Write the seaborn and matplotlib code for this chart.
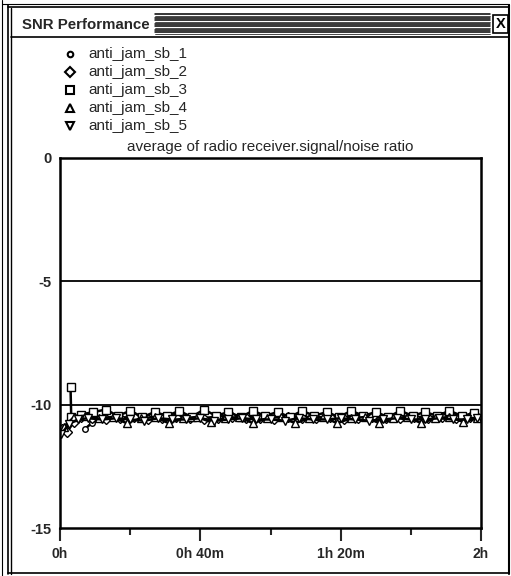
import seaborn as sns
import matplotlib
matplotlib.use("Agg")
from matplotlib import pyplot as plt
from matplotlib.lines import Line2D
from matplotlib.patches import Rectangle

# data: time in minutes, snr in dB
sb1_t = [7, 9, 12, 16, 20, 24, 28, 32, 36, 40, 44, 48, 52, 56, 60, 64, 68, 72, 76, 80,
         84, 88, 92, 96, 100, 104, 108, 112, 116, 119]
sb1_v = [-11.0, -10.75, -10.6, -10.55, -10.5, -10.5, -10.55, -10.5, -10.5, -10.55,
         -10.5, -10.45, -10.5, -10.5, -10.55, -10.5, -10.5, -10.5, -10.55, -10.5,
         -10.5, -10.5, -10.5, -10.45, -10.5, -10.5, -10.5, -10.5, -10.5, -10.5]

sb2_t = [0.5, 2, 4, 6, 9, 13, 17, 21, 25, 29, 33, 37, 41, 45, 49, 53, 57, 61, 65, 69,
         73, 77, 81, 85, 89, 93, 97, 101, 105, 109, 113, 117, 119]
sb2_v = [-11.0, -11.1, -10.7, -10.5, -10.55, -10.6, -10.55, -10.5, -10.6, -10.55,
         -10.5, -10.55, -10.6, -10.55, -10.5, -10.55, -10.55, -10.6, -10.5, -10.55,
         -10.55, -10.5, -10.6, -10.55, -10.5, -10.55, -10.55, -10.5, -10.55, -10.5,
         -10.55, -10.5, -10.5]

sb3_t = [3, 3.2, 6, 9.5, 13, 16.5, 20, 23.5, 27, 30.5, 34, 37.5, 41, 44.5, 48, 51.5,
         55, 58.5, 62, 65.5, 69, 72.5, 76, 79.5, 83, 86.5, 90, 93.5, 97, 100.5, 104,
         107.5, 111, 114.5, 118]
sb3_v = [-9.3, -10.5, -10.4, -10.3, -10.2, -10.45, -10.25, -10.5, -10.3, -10.45,
         -10.25, -10.5, -10.2, -10.45, -10.3, -10.5, -10.25, -10.45, -10.3, -10.5,
         -10.25, -10.45, -10.3, -10.5, -10.25, -10.45, -10.3, -10.5, -10.25, -10.45,
         -10.3, -10.45, -10.25, -10.45, -10.35]

sb4_t = [1, 4, 7, 11, 15, 19, 23, 27, 31, 35, 39, 43, 47, 51, 55, 59, 63, 67, 71, 75,
         79, 83, 87, 91, 95, 99, 103, 107, 111, 115, 119]
sb4_v = [-10.9, -10.5, -10.45, -10.55, -10.5, -10.75, -10.55, -10.5, -10.75, -10.55,
         -10.5, -10.7, -10.55, -10.5, -10.75, -10.55, -10.5, -10.75, -10.55, -10.5,
         -10.75, -10.55, -10.5, -10.75, -10.55, -10.5, -10.75, -10.55, -10.5, -10.7,
         -10.55]

sb5_t = [0.3, 2.5, 5, 8, 12, 16, 20, 24, 28, 32, 36, 40, 44, 48, 52, 56, 60, 64, 68,
         72, 76, 80, 84, 88, 92, 96, 100, 104, 108, 112, 116, 119]
sb5_v = [-11.2, -10.8, -10.6, -10.55, -10.6, -10.55, -10.6, -10.65, -10.55, -10.6,
         -10.6, -10.55, -10.65, -10.6, -10.55, -10.6, -10.6, -10.65, -10.55, -10.6,
         -10.6, -10.55, -10.6, -10.65, -10.6, -10.55, -10.6, -10.6, -10.55, -10.6,
         -10.6, -10.55]

names = ["anti_jam_sb_1", "anti_jam_sb_2", "anti_jam_sb_3", "anti_jam_sb_4", "anti_jam_sb_5"]
series = [(sb1_t, sb1_v), (sb2_t, sb2_v), (sb3_t, sb3_v), (sb4_t, sb4_v), (sb5_t, sb5_v)]
marks = ["o", "D", "s", "^", "v"]
msizes = [4, 5, 6, 6, 6]

x_ticks = [0, 40, 80, 120]
x_labels = ["0h", "0h 40m", "1h 20m", "2h"]
y_ticks = [0, -5, -10, -15]

sns.set_style("white")
plt.rcParams["font.family"] = ["Liberation Sans", "DejaVu Sans"]

W, H = 511, 576
fig = plt.figure(figsize=(W / 100, H / 100), dpi=100)


def fx(x):
    return x / W


def fy(y):
    return 1 - y / H


def box(x, y, w, h, **kw):
    # pixel box, top-left origin
    fig.patches.append(Rectangle((fx(x), fy(y + h)), w / W, h / H,
                                 transform=fig.transFigure, **kw))


def hline(x0, x1, y, lw=1.0):
    fig.lines.append(Line2D([fx(x0), fx(x1)], [fy(y), fy(y)], color="black",
                            lw=lw, transform=fig.transFigure))


def vline(x, y0, y1, lw=1.0):
    fig.lines.append(Line2D([fx(x), fx(x)], [fy(y0), fy(y1)], color="black",
                            lw=lw, transform=fig.transFigure))


# window frame
vline(2, 0, 576, 0.8)
vline(8, 5, 574, 1.2)
vline(11, 8, 574, 1.0)
vline(509, 5, 574, 1.5)
hline(2, 509, 4, 0.8)
hline(8, 509, 7, 1.2)
hline(8, 509, 573, 1.2)
hline(11, 509, 37, 1.2)

# title bar
fig.text(fx(22), fy(25), "SNR Performance", fontsize=10.8, fontweight="bold",
         va="center", ha="left")
for k, yy in enumerate(range(14, 35, 2)):
    hline(155, 490, yy, 1.1 if k % 3 != 1 else 0.5)
box(493, 15, 15, 18, facecolor="white", edgecolor="black", lw=1.2)
fig.text(fx(500.5), fy(24), "X", color="black", fontsize=10.5, fontweight="bold",
         ha="center", va="center")

# legend, drawn by hand to keep the row spacing of the original
for k, (nm, m, ms) in enumerate(zip(names, marks, msizes)):
    yy = 54 + 18 * k
    fig.lines.append(Line2D([fx(70)], [fy(yy)], ls="none", marker=m, ms=ms, mfc="white",
                            mec="black", mew=1.5, transform=fig.transFigure))
    fig.text(fx(88), fy(yy), nm, fontsize=11, va="center", ha="left")

ax = fig.add_axes([fx(60), fy(528), 421 / W, 370 / H])

for (t, v), m, ms in zip(series, marks, msizes):
    sns.lineplot(x=t, y=v, ax=ax, color="black", lw=1.8, marker=m, markersize=ms,
                 markerfacecolor="white", markeredgecolor="black", markeredgewidth=1.0,
                 estimator=None, sort=False)

for yv in [-5, -10]:
    ax.axhline(yv, color="black", lw=1.3, zorder=0)

ax.set_xlim(0, 120)
ax.set_ylim(-15, 0)
ax.set_xticks(x_ticks)
ax.set_xticklabels(x_labels, fontweight="bold", fontsize=10)
ax.set_xticks([20, 60, 100], minor=True)
ax.set_yticks(y_ticks)
ax.set_yticklabels([str(v) for v in y_ticks], fontweight="bold", fontsize=10.5)
ax.tick_params(axis="x", which="major", direction="out", length=9, width=1.5, pad=5,
               bottom=True)
ax.tick_params(axis="x", which="minor", direction="out", length=5, width=1.5, bottom=True)
ax.tick_params(axis="y", length=0, pad=6)
for s in ax.spines.values():
    s.set_color("black")
    s.set_linewidth(1.8)
ax.set_xlabel("")
ax.set_ylabel("")
ax.set_title("average of radio receiver.signal/noise ratio", fontsize=11, pad=5)

fig.savefig("out.png", dpi=100)
